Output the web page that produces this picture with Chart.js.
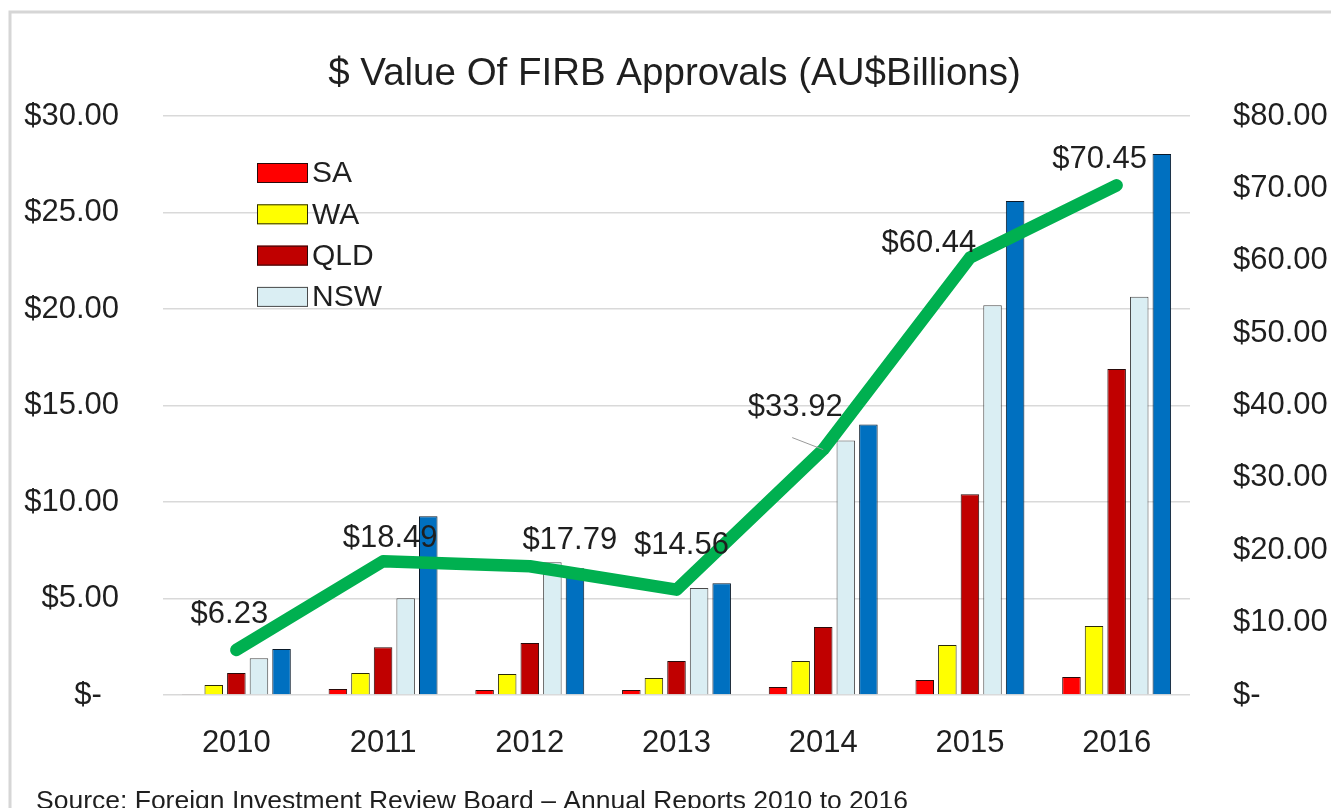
<!DOCTYPE html>
<html>
<head>
<meta charset="utf-8">
<script src="https://cdn.jsdelivr.net/npm/chart.js@4.4.1/dist/chart.umd.min.js"></script>
<style>
  html, body { margin: 0; padding: 0; background: #fff; }
  #wrap { width: 1331px; height: 808px; }
</style>
</head>
<body>
<div id="wrap"><canvas id="firb" width="1331" height="808"></canvas></div>
<script>
// values (AU$ billions)
var years = ['2010', '2011', '2012', '2013', '2014', '2015', '2016'];
var sa  = [0.05, 0.31, 0.26, 0.26, 0.41, 0.78, 0.93];
var wa  = [0.52, 1.14, 1.09, 0.88, 1.76, 2.59, 3.57];
var qld = [1.14, 2.48, 2.69, 1.76, 3.52, 10.40, 16.90];
var nsw = [1.91, 5.02, 6.88, 5.54, 13.19, 20.20, 20.64];
var vic = [2.38, 9.26, 6.57, 5.79, 14.02, 25.60, 28.04];
var total = [6.23, 18.49, 17.79, 14.56, 33.92, 60.44, 70.45];

var leftTicks  = ['$-  ', '$5.00', '$10.00', '$15.00', '$20.00', '$25.00', '$30.00'];
var rightTicks = ['$-', '$10.00', '$20.00', '$30.00', '$40.00', '$50.00', '$60.00', '$70.00', '$80.00'];

// where each total label sits relative to its point
var labelShift = [[-7, -35], [7, -23], [40, -26], [5, -44], [-28, -42], [-41, -14], [-17, -26]];

var FONT = 'Liberation Sans, Arial, sans-serif';
var INK = '#1f1f1f';

var extras = {
  id: 'extras',
  beforeDraw: function (chart) {
    var c = chart.ctx;
    c.save();
    c.strokeStyle = '#d6d6d6';
    c.lineWidth = 3;
    c.beginPath();
    c.moveTo(10, 808);
    c.lineTo(10, 12);
    c.lineTo(1331, 12);
    c.stroke();
    c.restore();
  },
  afterDatasetsDraw: function (chart) {
    var c = chart.ctx;
    c.save();

    // labels on the total line
    var pts = chart.getDatasetMeta(0).data;
    c.font = '31px ' + FONT;
    c.fillStyle = INK;
    c.textAlign = 'center';
    c.textBaseline = 'middle';
    pts.forEach(function (p, i) {
      c.fillText('$' + total[i].toFixed(2), p.x + labelShift[i][0], p.y + labelShift[i][1]);
    });
    // leader line for 2014
    var p4 = pts[4];
    c.strokeStyle = '#9a9a9a';
    c.lineWidth = 1;
    c.beginPath();
    c.moveTo(p4.x - 31, p4.y - 12);
    c.lineTo(p4.x, p4.y);
    c.stroke();

    // legend (first four states only, as in the original)
    c.font = '30px ' + FONT;
    c.textAlign = 'left';
    for (var k = 1; k <= 4; k++) {
      var ds = chart.data.datasets[k];
      var cy = 173 + (k - 1) * 41.3;
      c.fillStyle = ds.backgroundColor;
      c.fillRect(257, cy - 10, 51, 20);
      c.strokeStyle = ds.borderColor;
      c.lineWidth = 1;
      c.strokeRect(257.5, cy - 9.5, 50, 19);
      c.fillStyle = INK;
      c.fillText(ds.label, 312, cy + 1);
    }

    // source note
    c.font = '26.5px ' + FONT;
    c.textBaseline = 'alphabetic';
    c.fillText('Source: Foreign Investment Review Board \u2013 Annual Reports 2010 to 2016', 36, 809);
    c.restore();
  }
};

function bar(label, data, fill, edge) {
  return {
    type: 'bar', label: label, data: data, yAxisID: 'y', order: 2,
    backgroundColor: fill, borderColor: edge, borderWidth: 1,
    categoryPercentage: 0.77, barPercentage: 0.82
  };
}

var ctx = document.getElementById('firb').getContext('2d');
var chart = new Chart(ctx, {
  type: 'bar',
  data: {
    labels: years,
    datasets: [
      {
        type: 'line', label: 'Total', data: total, yAxisID: 'y1', order: 1,
        borderColor: '#00b050', borderWidth: 12.5, pointRadius: 0, tension: 0,
        borderCapStyle: 'round', borderJoinStyle: 'round', fill: false
      },
      bar('SA', sa, '#ff0000', '#2a0a0a'),
      bar('WA', wa, '#ffff00', '#2a2a0a'),
      bar('QLD', qld, '#c00000', '#2a0a0a'),
      bar('NSW', nsw, '#daeef3', '#4a4a4a'),
      bar('VIC', vic, '#0070c0', '#0a1a2a')
    ]
  },
  options: {
    responsive: false,
    devicePixelRatio: 1,
    animation: false,
    layout: { padding: { left: 18, right: 0, top: 0, bottom: 0 } },
    plugins: {
      legend: { display: false },
      tooltip: { enabled: false },
      title: {
        display: true,
        text: '$ Value Of FIRB Approvals (AU$Billions)',
        color: INK,
        font: { family: FONT, size: 38.5, weight: 'normal' },
        padding: { top: 51, bottom: 19 }
      }
    },
    scales: {
      x: {
        grid: { display: false, drawTicks: false },
        border: { display: false },
        ticks: { color: INK, font: { family: FONT, size: 31 }, padding: 30 },
        afterFit: function (s) { s.height = 113; }
      },
      y: {
        position: 'left',
        min: 0, max: 30,
        ticks: {
          stepSize: 5, color: INK, padding: 44,
          font: { family: FONT, size: 31 },
          callback: function (v, i) { return leftTicks[i]; }
        },
        grid: { color: '#d9d9d9', lineWidth: 1.5, drawTicks: false },
        border: { display: false },
        afterFit: function (s) { s.width = 145; }
      },
      y1: {
        position: 'right',
        min: 0, max: 80,
        ticks: {
          stepSize: 10, color: INK, padding: 43,
          font: { family: FONT, size: 31 },
          callback: function (v, i) { return rightTicks[i]; }
        },
        grid: { display: false, drawTicks: false },
        border: { display: false },
        afterFit: function (s) { s.width = 141; }
      }
    }
  },
  plugins: [extras]
});
</script>
</body>
</html>
